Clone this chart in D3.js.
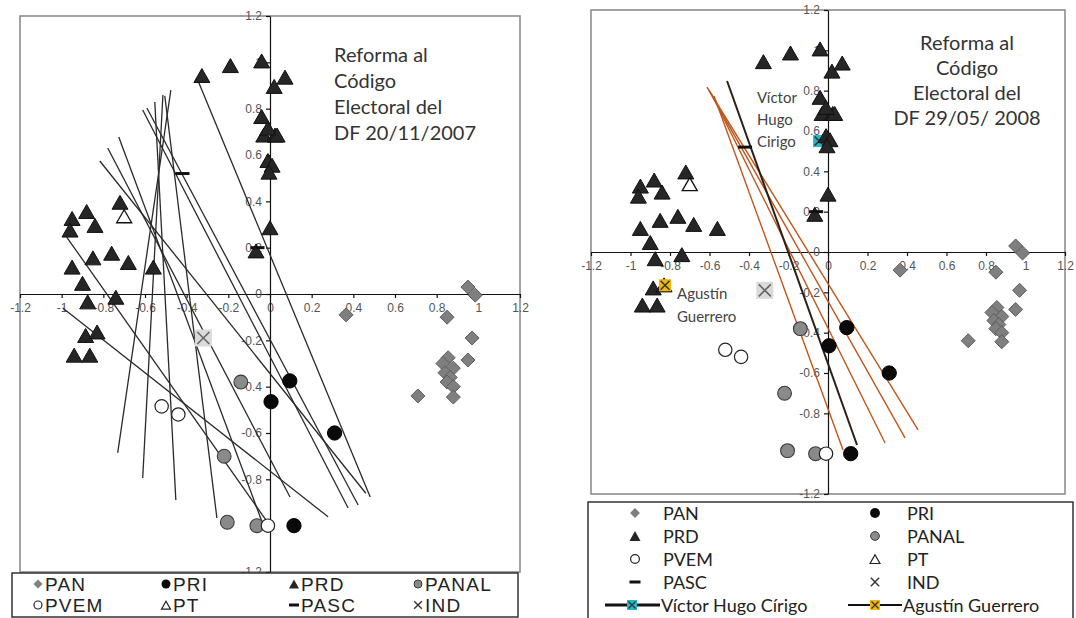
<!DOCTYPE html>
<html><head><meta charset="utf-8">
<script src="https://cdn.jsdelivr.net/npm/d3@7"></script>
<style>
body{margin:0;background:#fff}
svg{display:block}
</style>
</head><body>
<svg id="chart" width="1076" height="618"></svg>
<script>
// ---- values ----
const axisTicks = [-1.2,-1,-0.8,-0.6,-0.4,-0.2,0,0.2,0.4,0.6,0.8,1,1.2];

const partyNames = ["PAN","PRI","PRD","PANAL","PVEM","PT","PASC","IND"];

const panPts = [[0.95,0.03],[0.985,-0.005],[0.365,-0.09],[0.85,-0.10],[0.97,-0.19],[0.95,-0.285],
  [0.855,-0.275],[0.83,-0.30],[0.88,-0.32],[0.84,-0.34],[0.865,-0.36],[0.85,-0.38],[0.88,-0.40],
  [0.71,-0.44],[0.88,-0.445]];
const priPts = [[0.095,-0.375],[0.005,-0.465],[0.31,-0.60],[0.115,-1.0]];
const prdPts = [[-0.327,0.937],[-0.19,0.98],[-0.04,1.0],[0.02,0.89],[0.072,0.93],[-0.04,0.76],
  [-0.03,0.68],[0.024,0.68],[0.034,0.68],[-0.01,0.71],[-0.01,0.57],[0.01,0.55],[-0.005,0.52],
  [0.0,0.28],[-0.067,0.18],
  [-0.95,0.32],[-0.88,0.35],[-0.84,0.29],[-0.96,0.27],[-0.72,0.39],[-0.76,0.17],[-0.85,0.15],
  [-0.68,0.13],[-0.95,0.11],[-0.56,0.11],[-0.90,0.04],[-0.875,-0.04],[-0.74,-0.02],
  [-0.885,-0.185],[-0.83,-0.17],[-0.94,-0.27],[-0.865,-0.27]];
const panalPts = [[-0.14,-0.38],[-0.22,-0.70],[-0.205,-0.985],[-0.063,-1.0]];
const pvemPts = [[-0.52,-0.485],[-0.44,-0.52],[-0.01,-1.0]];
const ptPts = [[-0.70,0.33]];
const pascPts = [[-0.42,0.52],[-0.06,0.20]];
const indPts = [[-0.32,-0.19]];

// named legislators highlighted in the 2008 vote
const victorPt = [-0.045,0.55];
const agustinPt = [-0.825,-0.165];

// cutting lines, [x1,y1,x2,y2]
const cuts2007 = [
  [-0.351,0.932, 0.481,-0.876],
  [-0.476,0.880,-0.731,-0.686],
  [-0.514,0.859,-0.611,-0.794],
  [-0.553,0.829,-0.452,-0.889],
  [-0.505,0.855,-0.255,-0.967],
  [-0.611,0.794, 0.375,-0.924],
  [-0.591,0.803, 0.423,-0.911],
  [-0.726,0.678,-0.038,-0.984],
  [-0.779,0.630, 0.096,-0.876],
  [-0.817,0.574, 0.460,-0.860],
  [-0.976,0.246,-0.020,-0.975],
  [-0.995,-0.060,0.279,-0.962]
];
const cuts2008Dark = [
  [-0.511,0.848, 0.147,-0.957]
];
const cuts2008Orange = [
  [-0.577,0.773, 0.076,-0.982],
  [-0.592,0.788, 0.289,-0.947],
  [-0.603,0.803, 0.390,-0.922],
  [-0.613,0.818, 0.456,-0.882]
];

const title2007 = ["Reforma al","Código","Electoral del","DF  20/11/2007"];
const title2008 = ["Reforma al","Código","Electoral del","DF 29/05/ 2008"];

// ---- drawing ----
const svg = d3.select("#chart");
const fmt = d => String(+(+d).toFixed(1));

function triPath(w,h){ return `M0,${-h*0.6}L${w/2},${h*0.4}L${-w/2},${h*0.4}Z`; }
function diaPath(r){ return `M0,${-r}L${r},0L0,${r}L${-r},0Z`; }
function crossPath(r){ return `M${-r},${-r}L${r},${r}M${-r},${r}L${r},${-r}`; }

function namedMarker(g,x,y,n){
  const ng = g.append("g").attr("transform",`translate(${x(n.pt[0])},${y(n.pt[1])})`);
  ng.append("rect").attr("x",-6).attr("y",-6).attr("width",12).attr("height",12).attr("fill",n.color);
  ng.append("path").attr("d",crossPath(4.5)).attr("stroke","#333").attr("stroke-width",1.5);
}

function drawPanel(cfg){
  const g = svg.append("g");
  const x = d3.scaleLinear().domain([-1.2,1.2]).range(cfg.xr);
  const y = d3.scaleLinear().domain([-1.2,1.2]).range(cfg.yr);

  g.append("rect").attr("x",cfg.xr[0]).attr("y",cfg.yr[1])
    .attr("width",cfg.xr[1]-cfg.xr[0]).attr("height",cfg.yr[0]-cfg.yr[1])
    .attr("fill","#fff").attr("stroke","#8c8c8c").attr("stroke-width",1.6);

  const xa = g.append("g").attr("transform",`translate(0,${y(0)})`)
    .call(d3.axisBottom(x).tickValues(axisTicks).tickSize(4).tickSizeOuter(0).tickPadding(5).tickFormat(fmt));
  const ya = g.append("g").attr("transform",`translate(${x(0)},0)`)
    .call(d3.axisLeft(y).tickValues(axisTicks).tickSize(4).tickSizeOuter(0).tickPadding(4).tickFormat(fmt));
  [xa,ya].forEach(a=>{
    a.selectAll("text").attr("font-family","Liberation Sans, Arial").attr("font-size",12).attr("fill","#555");
    a.selectAll("path,line").attr("stroke","#111").attr("stroke-width",1.2);
  });

  // title
  const t = g.append("text").attr("font-family","Lato").attr("font-size",20).attr("fill","#333")
    .attr("text-anchor",cfg.titleAnchor);
  cfg.title.forEach((s,i)=>t.append("tspan").attr("x",cfg.titleX).attr("y",cfg.titleY+i*cfg.titleDy).text(s));

  // cutting lines
  const drawCuts = (arr,color,w)=> g.append("g").selectAll("line").data(arr).join("line")
    .attr("x1",d=>x(d[0])).attr("y1",d=>y(d[1])).attr("x2",d=>x(d[2])).attr("y2",d=>y(d[3]))
    .attr("stroke",color).attr("stroke-width",w);
  cfg.cuts.forEach(c=>drawCuts(c.data,c.color,c.width));

  const pts = (arr)=>g.append("g").selectAll("path").data(arr).join("path")
    .attr("transform",d=>`translate(${x(d[0])},${y(d[1])})`);

  pts(panPts).attr("d",diaPath(7)).attr("fill","#7f7f7f").attr("stroke","#5e5e5e").attr("stroke-width",1);
  // IND
  const ig = g.append("g").selectAll("g").data(indPts).join("g")
    .attr("transform",d=>`translate(${x(d[0])},${y(d[1])})`);
  ig.append("rect").attr("x",-8.5).attr("y",-8.5).attr("width",17).attr("height",17).attr("fill","#dadada");
  ig.append("path").attr("d",crossPath(6)).attr("stroke","#666").attr("stroke-width",1.6);

  // named legislators: labels, and markers that sit beneath the party markers
  if(cfg.named){
    cfg.named.forEach(n=>{
      if(!n.onTop) namedMarker(g,x,y,n);
      const lt = g.append("text").attr("font-family","Lato").attr("font-size",15).attr("fill","#444");
      n.label.forEach((s,i)=>lt.append("tspan").attr("x",n.lx).attr("y",n.ly+i*n.ldy).text(s));
    });
  }

  pts(prdPts).attr("d",triPath(16,14)).attr("fill","#262626").attr("stroke","#111").attr("stroke-width",1);
  pts(ptPts).attr("d",triPath(15,13)).attr("fill","#fff").attr("stroke","#111").attr("stroke-width",1.3);
  pts(panalPts).attr("d",d3.symbol(d3.symbolCircle,150)()).attr("fill","#8a8a8a").attr("stroke","#3a3a3a").attr("stroke-width",1.1);
  pts(pvemPts).attr("d",d3.symbol(d3.symbolCircle,140)()).attr("fill","#fff").attr("stroke","#222").attr("stroke-width",1.2);
  pts(priPts).attr("d",d3.symbol(d3.symbolCircle,160)()).attr("fill","#0a0a0a").attr("stroke","#000");
  g.append("g").selectAll("rect").data(pascPts).join("rect")
    .attr("x",d=>x(d[0])-7).attr("y",d=>y(d[1])-1.5).attr("width",14).attr("height",3).attr("fill","#111");

  // markers drawn over their PRD triangle
  if(cfg.named) cfg.named.filter(n=>n.onTop).forEach(n=>namedMarker(g,x,y,n));
  return {x,y,g};
}

drawPanel({
  xr:[20,520], yr:[572,16],
  title:title2007, titleX:334, titleY:62, titleDy:26, titleAnchor:"start",
  cuts:[{data:cuts2007,color:"#2a2a2a",width:1.3}]
});

drawPanel({
  xr:[591,1065], yr:[494,10],
  title:title2008, titleX:967, titleY:50, titleDy:25, titleAnchor:"middle",
  cuts:[{data:cuts2008Orange,color:"#c0561c",width:1.4},{data:cuts2008Dark,color:"#2b2018",width:2}],
  named:[
    {pt:victorPt,color:"#23b7c4",label:["Víctor","Hugo","Cirigo"],lx:757,ly:103,ldy:22,onTop:false},
    {pt:agustinPt,color:"#f2b705",label:["Agustín","Guerrero"],lx:677,ly:299,ldy:23,onTop:true}
  ]
});

// ---- legends ----
function legendMarker(g,name,cx,cy,k){
  if(name==="PAN") g.append("path").attr("d",diaPath(4.5*k)).attr("transform",`translate(${cx},${cy})`).attr("fill","#7f7f7f");
  if(name==="PRI") g.append("circle").attr("cx",cx).attr("cy",cy).attr("r",4.5*k).attr("fill","#0a0a0a");
  if(name==="PRD") g.append("path").attr("d",triPath(10*k,9*k)).attr("transform",`translate(${cx},${cy+1})`).attr("fill","#262626");
  if(name==="PANAL") g.append("circle").attr("cx",cx).attr("cy",cy).attr("r",4*k).attr("fill","#8a8a8a").attr("stroke","#3a3a3a");
  if(name==="PVEM") g.append("circle").attr("cx",cx).attr("cy",cy).attr("r",4*k).attr("fill","#fff").attr("stroke","#222").attr("stroke-width",1.2);
  if(name==="PT") g.append("path").attr("d",triPath(9*k,8*k)).attr("transform",`translate(${cx},${cy+1})`).attr("fill","#fff").attr("stroke","#222").attr("stroke-width",1.2);
  if(name==="PASC") g.append("rect").attr("x",cx-5*k).attr("y",cy-1.5).attr("width",10*k).attr("height",3).attr("fill","#111");
  if(name==="IND") g.append("path").attr("d",crossPath(3.8*k)).attr("transform",`translate(${cx},${cy})`).attr("stroke","#333").attr("stroke-width",1.4);
}

// 2007 legend: four columns, two rows
const lg1 = svg.append("g");
lg1.append("rect").attr("x",12).attr("y",573).attr("width",506).attr("height",44)
  .attr("fill","#fff").attr("stroke","#333").attr("stroke-width",1.5);
const colX1 = [38,166,294,418];
partyNames.forEach((n,i)=>{
  const cx = colX1[i%4], cy = i<4 ? 584 : 605;
  legendMarker(lg1,n,cx,cy,1);
  lg1.append("text").attr("x",cx+7).attr("y",cy+7).attr("font-family","Liberation Sans, Arial")
    .attr("font-size",19).attr("letter-spacing",1.2).attr("fill","#222").text(n);
});

// 2008 legend: two columns, five rows
const lg2 = svg.append("g");
lg2.append("rect").attr("x",588).attr("y",502).attr("width",485).attr("height",125)
  .attr("fill","#fff").attr("stroke","#333").attr("stroke-width",1.5);
partyNames.forEach((n,i)=>{
  const col = i%2, row = Math.floor(i/2);
  const cx = col ? 875 : 635, cy = 513 + row*23;
  legendMarker(lg2,n,cx,cy,1.1);
  lg2.append("text").attr("x",col?907:663).attr("y",cy+6.5).attr("font-family","Lato")
    .attr("font-size",18).attr("fill","#222").text(n);
});
const namedLegend = [
  {name:"Víctor Hugo Círigo",color:"#23b7c4",x1:605,x2:660,cx:632,tx:661,w:3.2},
  {name:"Agustín Guerrero",color:"#f2b705",x1:848,x2:902,cx:875,tx:903,w:2.2}
];
namedLegend.forEach(d=>{
  const cy = 513 + 4*23;
  lg2.append("line").attr("x1",d.x1).attr("x2",d.x2).attr("y1",cy).attr("y2",cy).attr("stroke","#111").attr("stroke-width",d.w);
  lg2.append("rect").attr("x",d.cx-5).attr("y",cy-5).attr("width",10).attr("height",10).attr("fill",d.color);
  lg2.append("path").attr("d",crossPath(3.5)).attr("transform",`translate(${d.cx},${cy})`).attr("stroke","#333").attr("stroke-width",1.3);
  lg2.append("text").attr("x",d.tx).attr("y",cy+6.5).attr("font-family","Lato").attr("font-size",18).attr("fill","#222").text(d.name);
});
</script>
</body></html>
